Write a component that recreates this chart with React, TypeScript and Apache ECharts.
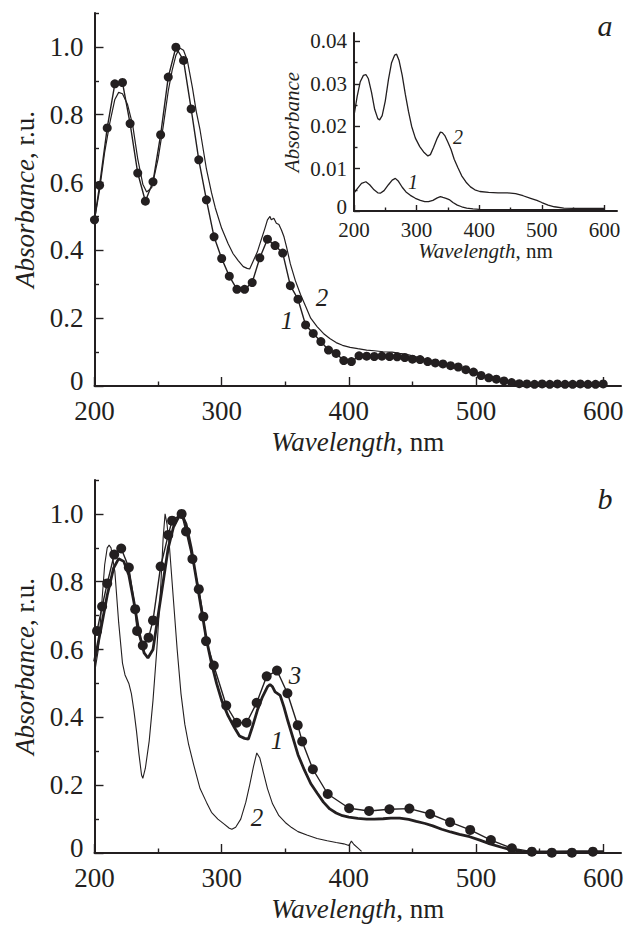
import React, { useEffect, useRef } from 'react';
import * as echarts from 'echarts';

const INK = '#231f20';
const FONT = '"Liberation Serif", "Times New Roman", serif';

// ---------- tick values ----------
const mainXMajor = [200, 300, 400, 500, 600];
const mainXMinor = [250, 350, 450, 550];
const mainYMajor = [0, 0.2, 0.4, 0.6, 0.8, 1.0];
const mainYMinor = [0.1, 0.3, 0.5, 0.7, 0.9, 1.1];
const insetXMajor = [200, 300, 400, 500, 600];
const insetXMinor = [250, 350, 450, 550];
const insetYMajor = [0, 0.01, 0.02, 0.03, 0.04];
const insetYMinor = [0.005, 0.015, 0.025, 0.035];

// ---------- panel a: curve 1 (dots) ----------
const a1: number[][] = [
  [200, 0.49], [204, 0.592], [210, 0.761], [216, 0.891], [222, 0.895], [228, 0.774], [234, 0.628],
  [240, 0.545], [246, 0.602], [252, 0.741], [258, 0.911], [264, 0.999], [270, 0.96], [276, 0.817],
  [282, 0.667], [288, 0.549], [294, 0.44], [300, 0.376], [306, 0.324], [312, 0.285], [318, 0.285],
  [324, 0.305], [330, 0.378], [336, 0.433], [342, 0.414], [348, 0.392], [354, 0.296], [360, 0.256],
  [366, 0.18], [372, 0.155], [378, 0.131], [384, 0.106], [390, 0.096], [396, 0.075], [402, 0.072],
  [408, 0.089], [414, 0.088], [420, 0.087], [426, 0.088], [432, 0.087], [438, 0.086], [444, 0.084],
  [450, 0.079], [456, 0.078], [462, 0.072], [468, 0.068], [474, 0.065], [480, 0.06], [486, 0.056],
  [492, 0.048], [498, 0.041], [504, 0.031], [510, 0.024], [516, 0.02], [522, 0.015], [528, 0.01],
  [534, 0.007], [540, 0.006], [546, 0.005], [552, 0.006], [558, 0.005], [564, 0.006], [570, 0.005],
  [576, 0.005], [582, 0.006], [588, 0.005], [594, 0.005], [600, 0.006],
];

// ---------- panel a: curve 2 (thin line) ----------
const a2: number[][] = [
  [200, 0.49], [204, 0.578], [208, 0.69], [212, 0.775], [216, 0.845], [219, 0.866], [222, 0.862],
  [226, 0.83], [230, 0.77], [234, 0.67], [238, 0.595], [241, 0.572], [245, 0.585], [250, 0.67],
  [254, 0.765], [258, 0.87], [261, 0.93], [264, 0.975], [267, 0.997], [270, 0.99], [273, 0.96],
  [277, 0.88], [280, 0.81], [283, 0.755], [288, 0.64], [292, 0.57], [295, 0.525], [300, 0.465],
  [305, 0.42], [309, 0.39], [313, 0.37], [317, 0.352], [320, 0.347], [322, 0.345], [325, 0.37],
  [328, 0.395], [331, 0.43], [334, 0.465], [336, 0.49], [338, 0.5], [339, 0.49], [341, 0.495],
  [343, 0.48], [345, 0.476], [347, 0.46], [349, 0.44], [351, 0.41], [354, 0.36], [358, 0.31],
  [362, 0.27], [366, 0.235], [370, 0.2], [375, 0.175], [380, 0.155], [385, 0.14], [390, 0.128],
  [395, 0.12], [401, 0.114], [407, 0.11], [414, 0.106], [420, 0.104], [427, 0.101], [434, 0.1],
  [440, 0.096], [447, 0.092], [453, 0.086], [460, 0.079], [466, 0.072], [473, 0.067], [480, 0.062],
  [486, 0.055], [493, 0.047], [500, 0.04], [506, 0.032], [512, 0.025], [518, 0.018], [524, 0.013],
  [530, 0.01], [540, 0.008], [560, 0.007], [580, 0.007], [600, 0.008],
];

// ---------- inset (panel a) ----------
const inset1: number[][] = [
  [200, 0.0042], [205, 0.0052], [212, 0.0065], [219, 0.0069], [225, 0.0062], [232, 0.005],
  [238, 0.0043], [242, 0.0042], [248, 0.0048], [255, 0.0062], [261, 0.0073], [266, 0.0077],
  [271, 0.007], [277, 0.0056], [283, 0.0045], [290, 0.0037], [298, 0.003], [306, 0.0025],
  [313, 0.0022], [319, 0.0022], [326, 0.0025], [333, 0.0031], [338, 0.0034], [342, 0.0032],
  [347, 0.003], [352, 0.0027], [358, 0.002], [365, 0.0014], [372, 0.001], [380, 0.0007],
  [390, 0.0005], [400, 0.0004], [420, 0.0003], [450, 0.0003], [500, 0.0003], [550, 0.0003], [600, 0.0003],
];
const inset2: number[][] = [
  [200, 0.0225], [205, 0.027], [210, 0.0305], [215, 0.032], [219, 0.0322], [223, 0.0312], [228, 0.028],
  [233, 0.024], [238, 0.0218], [241, 0.0215], [245, 0.0225], [250, 0.026], [255, 0.031], [260, 0.035],
  [265, 0.0368], [268, 0.037], [272, 0.0355], [277, 0.032], [282, 0.0275], [287, 0.0235], [292, 0.02],
  [298, 0.0172], [305, 0.0152], [312, 0.0138], [318, 0.013], [322, 0.0133], [327, 0.015], [333, 0.0172],
  [338, 0.0186], [341, 0.0185], [345, 0.0178], [350, 0.0162], [355, 0.0145], [360, 0.0122], [366, 0.0102],
  [372, 0.0083], [379, 0.0068], [386, 0.0057], [393, 0.005], [401, 0.0046], [415, 0.0044], [430, 0.0043],
  [445, 0.0043], [458, 0.0041], [470, 0.0036], [482, 0.003], [492, 0.0025], [500, 0.002], [510, 0.0014],
  [520, 0.001], [535, 0.0007], [550, 0.0006], [575, 0.0006], [600, 0.0006],
];

// ---------- panel b ----------
const b1: number[][] = [
  [200, 0.565], [205, 0.66], [210, 0.76], [215, 0.84], [219, 0.868], [223, 0.86], [227, 0.82],
  [231, 0.74], [235, 0.65], [239, 0.59], [242, 0.575], [246, 0.6], [250, 0.7], [254, 0.8], [258, 0.9],
  [262, 0.96], [266, 0.99], [269, 0.995], [272, 0.97], [276, 0.9], [280, 0.81], [284, 0.72], [288, 0.63],
  [292, 0.56], [296, 0.5], [300, 0.45], [305, 0.405], [310, 0.37], [314, 0.345], [318, 0.338],
  [321, 0.336], [324, 0.37], [328, 0.42], [332, 0.46], [336, 0.49], [338, 0.497], [340, 0.49],
  [342, 0.475], [344, 0.47], [346, 0.465], [349, 0.43], [352, 0.39], [356, 0.34], [360, 0.29],
  [365, 0.245], [370, 0.205], [375, 0.177], [380, 0.15], [385, 0.13], [390, 0.118], [395, 0.11],
  [400, 0.106], [407, 0.102], [414, 0.1], [420, 0.1], [427, 0.101], [433, 0.103], [440, 0.103],
  [447, 0.099], [453, 0.093], [460, 0.087], [466, 0.08], [473, 0.07], [480, 0.062], [487, 0.055],
  [495, 0.048], [503, 0.038], [511, 0.027], [520, 0.017], [528, 0.009], [536, 0.005], [545, 0.003],
  [560, 0.003], [580, 0.004], [600, 0.004],
];
const b2: number[][] = [
  [200, 0.53], [203, 0.6], [206, 0.75], [208, 0.85], [210, 0.9], [211.5, 0.908], [213, 0.9], [216, 0.83],
  [219, 0.68], [222, 0.56], [224, 0.525], [227, 0.5], [229, 0.47], [231, 0.42], [233, 0.36], [235, 0.29],
  [237, 0.23], [238, 0.22], [240, 0.25], [243, 0.33], [246, 0.45], [249, 0.6], [252, 0.78], [254, 0.93],
  [255.5, 1.0], [257, 0.97], [259, 0.9], [262, 0.75], [265, 0.6], [268, 0.47], [271, 0.38], [274, 0.32],
  [278, 0.26], [283, 0.19], [288, 0.15], [292, 0.12], [297, 0.1], [302, 0.085], [306, 0.073], [308, 0.07],
  [311, 0.076], [315, 0.1], [319, 0.15], [322, 0.2], [325, 0.255], [327.6, 0.295], [330, 0.28],
  [333, 0.235], [336, 0.19], [340, 0.145], [345, 0.11], [350, 0.09], [355, 0.075], [360, 0.063],
  [367, 0.053], [375, 0.043], [383, 0.036], [390, 0.031], [396, 0.027], [400, 0.022], [402, 0.035],
  [404, 0.025], [407, 0.015], [410, 0.005],
];
const b3: number[][] = [
  [202, 0.655], [206, 0.727], [210, 0.795], [215.5, 0.88], [221, 0.898], [227, 0.842], [232, 0.719],
  [233.5, 0.655], [238, 0.612], [242.5, 0.635], [246, 0.686], [252, 0.845], [258, 0.938], [261, 0.98],
  [268.5, 1.0], [272, 0.948], [277, 0.867], [282, 0.778], [285.6, 0.697], [287.7, 0.625], [293.8, 0.553],
  [303.6, 0.435], [311.8, 0.384], [319.6, 0.384], [327.5, 0.443], [335.4, 0.521], [343.5, 0.538],
  [351.7, 0.471], [359.8, 0.377], [363.3, 0.329], [371.7, 0.247], [383.4, 0.174], [400.2, 0.132],
  [415.9, 0.124], [431.9, 0.129], [447.6, 0.131], [463.9, 0.115], [479.6, 0.091], [495.4, 0.068],
  [511.7, 0.038], [528.2, 0.014], [543.9, 0.004], [559.6, 0.001], [575.4, 0.001], [591.9, 0.004],
];

function fmtMain(v: number) {
  return v === 0 ? '{z|0}' : v.toFixed(1);
}
function fmtInset(v: number) {
  return v === 0 ? '{z|0}' : v.toFixed(2);
}

function makeAxes(
  gridIndex: number,
  o: {
    xMin: number; xMax: number; yMin: number; yMax: number;
    xMajor: number[]; xMinor: number[]; yMajor: number[]; yMinor: number[];
    fontSize: number; majorLen: number; minorLen: number; xMargin: number; yMargin: number;
    zeroLift: number;
    xName: any; yName: any; xNameGap: number; yNameGap: number; nameSize: number;
    yFmt: (v: number) => string;
  }
) {
  const rich = {
    i: { fontStyle: 'italic', fontFamily: FONT, fontSize: o.nameSize, color: INK },
    n: { fontFamily: FONT, fontSize: o.nameSize, color: INK },
  };
  const tickStyle = { color: INK, width: 1.4 };
  const lh = Math.round(o.fontSize * 0.8);
  const xs = [
    {
      type: 'value', gridIndex, min: o.xMin, max: o.xMax, position: 'bottom',
      axisLine: { show: true, onZero: false, lineStyle: { color: INK, width: 2 } },
      axisTick: { show: true, inside: true, length: o.majorLen, customValues: o.xMajor, lineStyle: tickStyle },
      axisLabel: {
        show: true, customValues: o.xMajor, color: INK, fontFamily: FONT, fontSize: o.fontSize,
        lineHeight: lh, margin: o.xMargin, formatter: (v: number) => String(v),
      },
      splitLine: { show: false },
      name: o.xName, nameLocation: 'middle', nameGap: o.xNameGap,
      nameTextStyle: { rich, fontFamily: FONT, fontSize: o.nameSize, color: INK },
    },
    {
      type: 'value', gridIndex, min: o.xMin, max: o.xMax, position: 'bottom',
      axisLine: { show: false, onZero: false },
      axisTick: { show: true, inside: true, length: o.minorLen, customValues: o.xMinor, lineStyle: tickStyle },
      axisLabel: { show: false },
      splitLine: { show: false },
    },
  ];
  const ys = [
    {
      type: 'value', gridIndex, min: o.yMin, max: o.yMax, position: 'left',
      axisLine: { show: true, onZero: false, lineStyle: { color: INK, width: 2 } },
      axisTick: { show: true, inside: true, length: o.majorLen, customValues: o.yMajor, lineStyle: tickStyle },
      axisLabel: {
        show: true, customValues: o.yMajor, color: INK, fontFamily: FONT, fontSize: o.fontSize,
        lineHeight: lh, margin: o.yMargin, formatter: o.yFmt,
        rich: {
          z: {
            fontFamily: FONT, fontSize: o.fontSize, color: INK, lineHeight: lh,
            padding: [0, 0, o.zeroLift * 2, 0],
          },
        },
      },
      splitLine: { show: false },
      name: o.yName, nameLocation: 'middle', nameGap: o.yNameGap,
      nameTextStyle: { rich, fontFamily: FONT, fontSize: o.nameSize, color: INK },
    },
    {
      type: 'value', gridIndex, min: o.yMin, max: o.yMax, position: 'left',
      axisLine: { show: false, onZero: false },
      axisTick: { show: true, inside: true, length: o.minorLen, customValues: o.yMinor, lineStyle: tickStyle },
      axisLabel: { show: false },
      splitLine: { show: false },
    },
  ];
  return { xs, ys };
}

export default function App() {
  const ref = useRef<HTMLDivElement>(null);

  useEffect(() => {
    if (!ref.current) return;
    const chart = echarts.init(ref.current, undefined, { renderer: 'svg' });

    const mainOpts = {
      xMin: 200, xMax: 614, yMin: 0, yMax: 1.1,
      xMajor: mainXMajor, xMinor: mainXMinor, yMajor: mainYMajor, yMinor: mainYMinor,
      fontSize: 27, majorLen: 9, minorLen: 4.5, xMargin: 14, yMargin: 11, zeroLift: 5,
      xName: '{i|Wavelength}{n|, nm}', yName: '{i|Absorbance}{n|, r.u.}',
      xNameGap: 42, yNameGap: 52, nameSize: 27, yFmt: fmtMain,
    };
    const top = makeAxes(0, mainOpts);
    const inset = makeAxes(1, {
      xMin: 200, xMax: 620, yMin: 0, yMax: 0.042,
      xMajor: insetXMajor, xMinor: insetXMinor, yMajor: insetYMajor, yMinor: insetYMinor,
      fontSize: 21, majorLen: 6, minorLen: 3.5, xMargin: 10, yMargin: 7, zeroLift: 4,
      xName: '{i|Wavelength}{n|, nm}', yName: '{i|Absorbance}',
      xNameGap: 29, yNameGap: 52, nameSize: 21, yFmt: fmtInset,
    });
    const bottom = makeAxes(2, mainOpts);

    const thin = (data: number[][], xi: number, yi: number, w = 1.2) => ({
      type: 'line', data, xAxisIndex: xi, yAxisIndex: yi, symbol: 'none', showSymbol: false,
      lineStyle: { color: INK, width: w }, silent: true,
    });
    const dotted = (data: number[][], xi: number, yi: number, size: number) => ({
      type: 'line', data, xAxisIndex: xi, yAxisIndex: yi, symbol: 'circle', symbolSize: size,
      showSymbol: true, itemStyle: { color: INK, borderWidth: 0 },
      lineStyle: { color: INK, width: 1.4 }, silent: true,
    });

    const lbl = (text: string, x: number, y: number, size: number) => ({
      type: 'text', x, y,
      style: {
        text, fill: INK, fontFamily: FONT, fontStyle: 'italic', fontSize: size,
        textAlign: 'center', textVerticalAlign: 'middle',
      },
    });

    chart.setOption({
      animation: false,
      backgroundColor: '#ffffff',
      grid: [
        { left: 94.5, top: 13, width: 526.5, height: 373 },
        { left: 354, top: 33, width: 263, height: 178 },
        { left: 94.5, top: 480, width: 526.5, height: 373 },
      ],
      xAxis: [...top.xs, ...inset.xs, ...bottom.xs],
      yAxis: [...top.ys, ...inset.ys, ...bottom.ys],
      series: [
        thin(a2, 0, 0, 1.2),
        dotted(a1, 0, 0, 9),
        thin(inset1, 2, 2, 1.3),
        thin(inset2, 2, 2, 1.3),
        thin(b2, 4, 4, 1.1),
        thin(b1, 4, 4, 2.8),
        dotted(b3, 4, 4, 10),
      ],
      graphic: [
        lbl('a', 605, 25, 30),
        lbl('b', 605, 498, 30),
        lbl('1', 287, 320, 25),
        lbl('2', 322, 297, 25),
        lbl('1', 413, 182, 20),
        lbl('2', 458, 137, 20),
        lbl('3', 295, 675, 25),
        lbl('1', 277, 740, 25),
        lbl('2', 257, 817, 25),
      ],
    });

    return () => chart.dispose();
  }, []);

  return (
    <div
      ref={ref}
      style={{ position: 'absolute', left: 0, top: 0, width: 635, height: 925, background: '#fff' }}
    />
  );
}
